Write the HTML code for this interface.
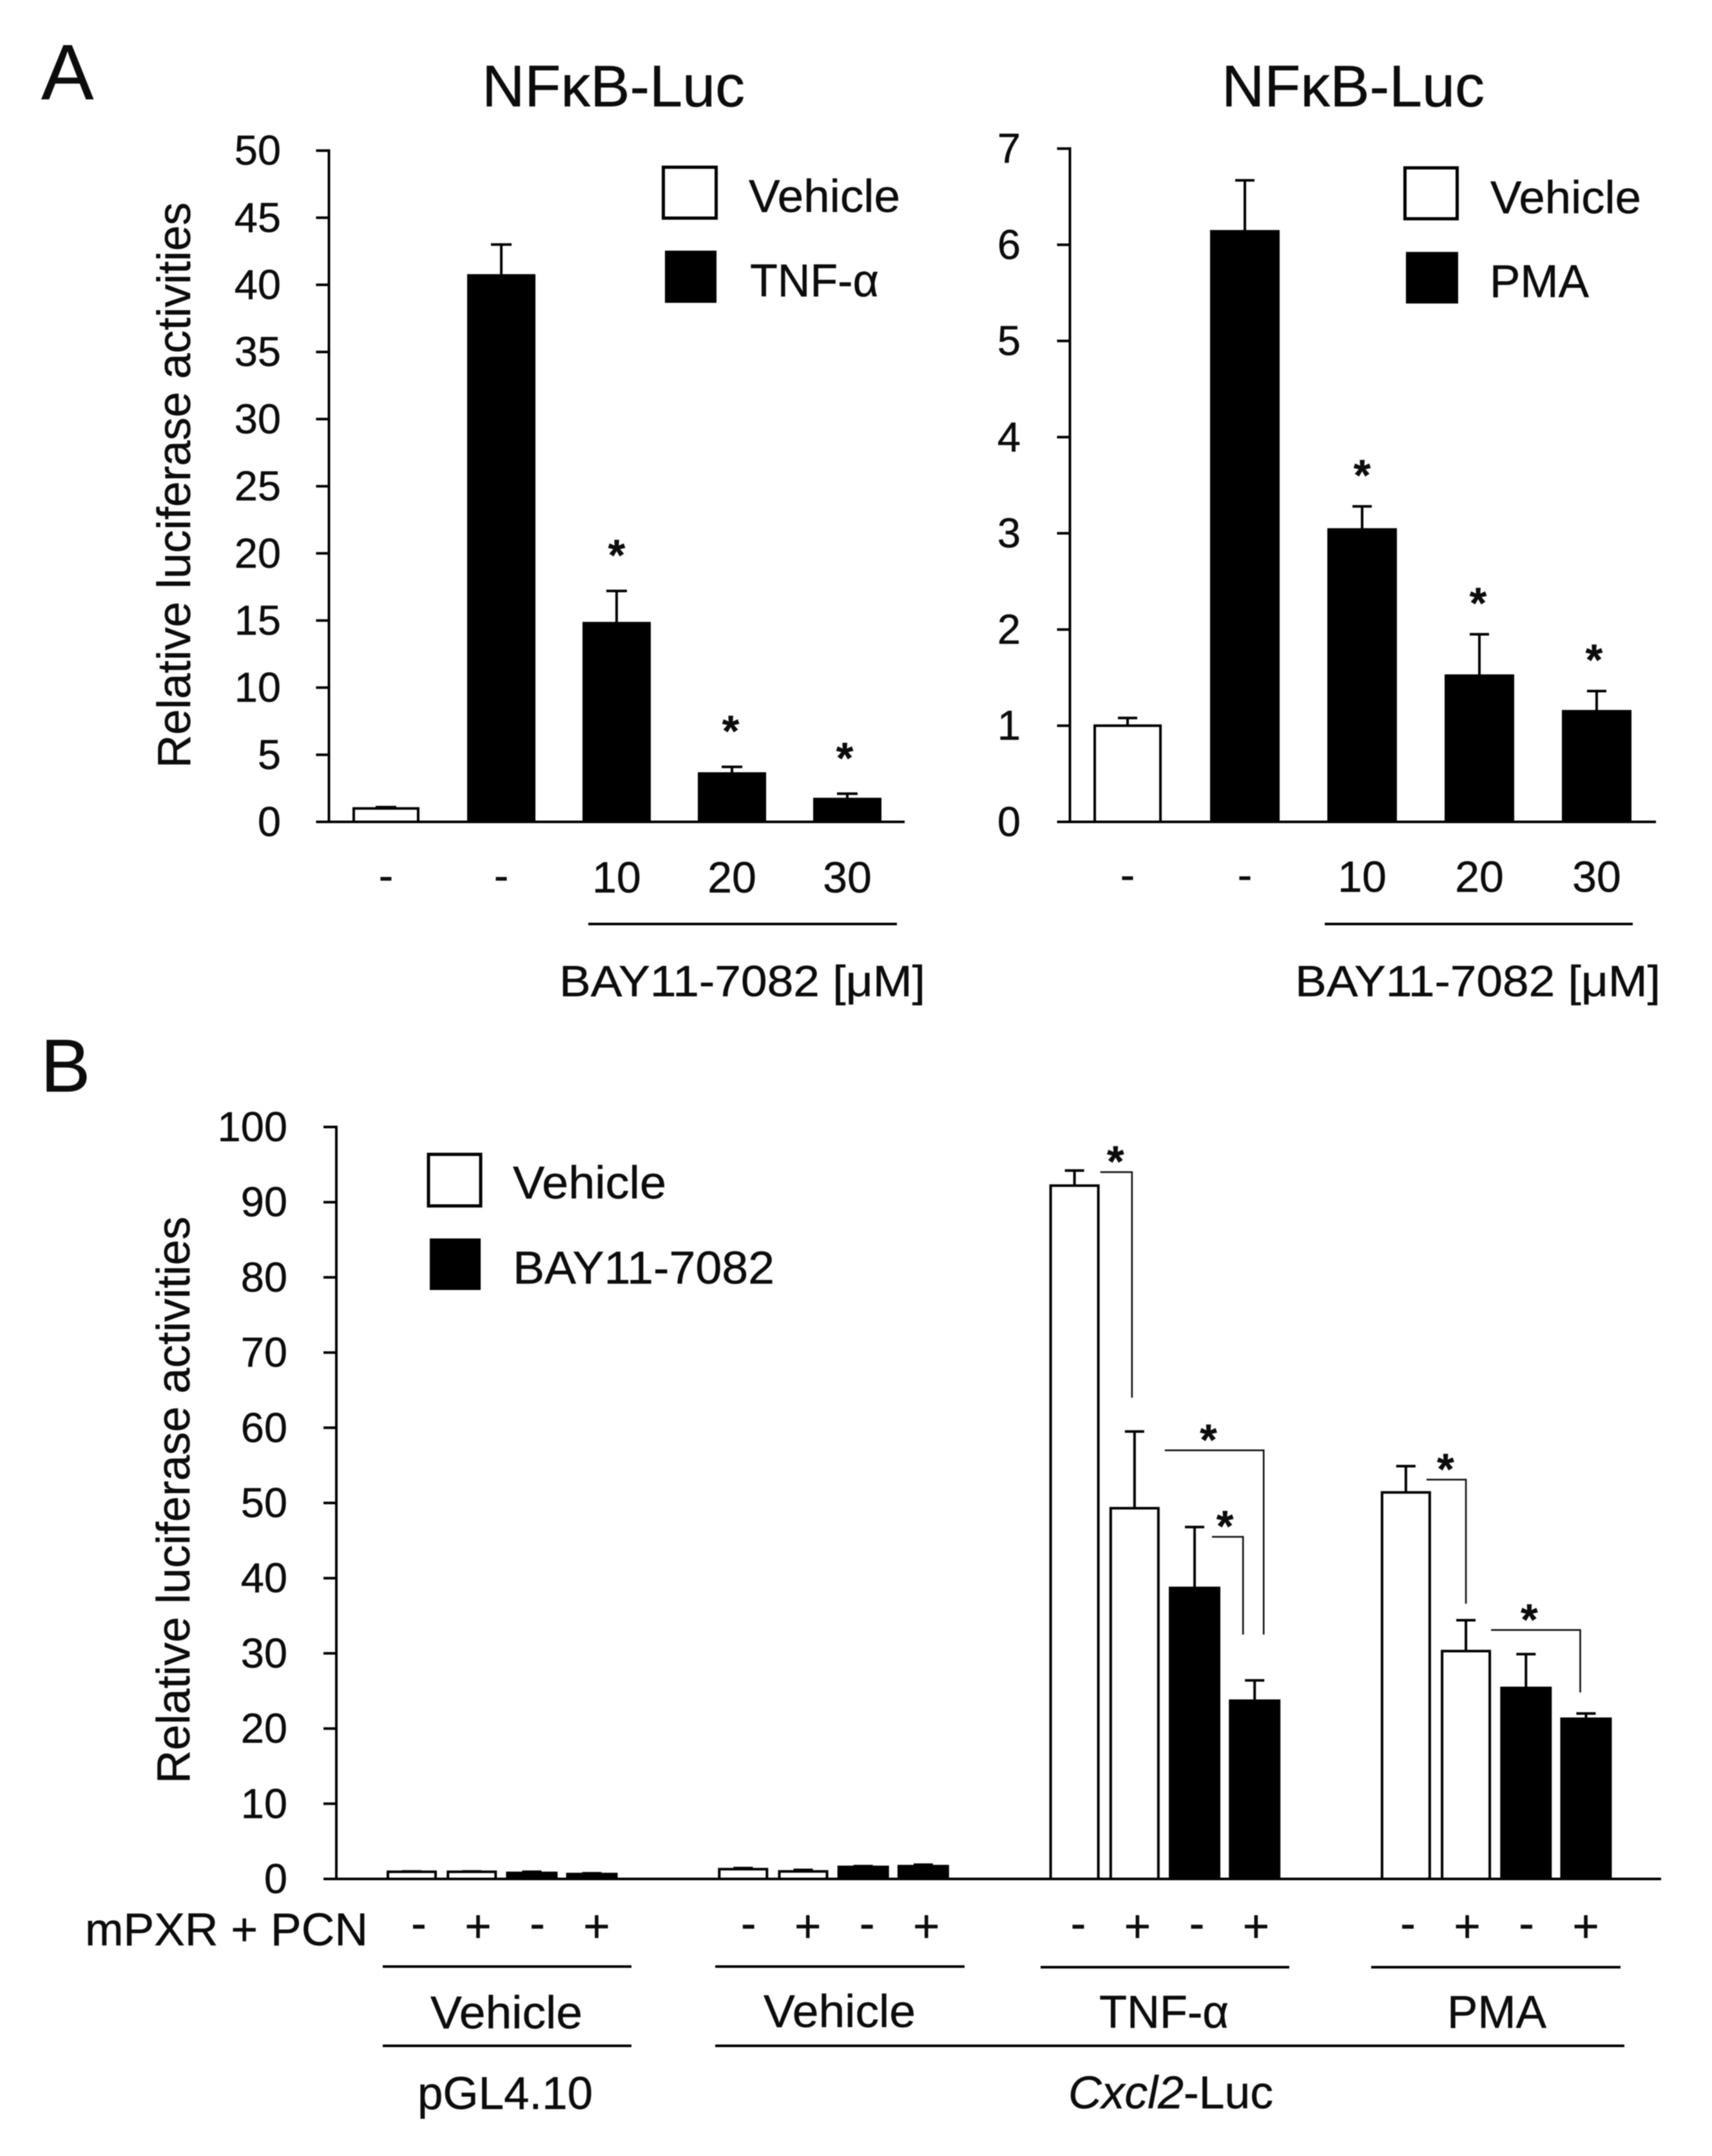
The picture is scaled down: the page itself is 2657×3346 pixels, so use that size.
<!DOCTYPE html>
<html lang="en">
<head>
<meta charset="utf-8">
<title>NFκB and Cxcl2 luciferase activity</title>
<style>
  html, body { margin: 0; padding: 0; background: #fff; }
  svg { display: block; position: absolute; left: 0; top: 0; filter: blur(0.8px); }
  text { font-family: "Liberation Sans", Arial, sans-serif; fill: #0c0c0c; stroke: #0c0c0c; stroke-width: 0.5px; }
</style>
</head>
<body>
<svg id="figure" xmlns="http://www.w3.org/2000/svg" width="2657" height="3346" viewBox="0 0 2657 3346">
  <rect x="0" y="0" width="2657" height="3346" fill="#fff"/>

  <text x="64" y="154" font-size="122">A</text>
  <text x="63" y="1694" font-size="116">B</text>

  <text x="748" y="165" font-size="91" textLength="408" lengthAdjust="spacingAndGlyphs">NFκB-Luc</text>
  <text x="1896" y="165" font-size="91" textLength="408" lengthAdjust="spacingAndGlyphs">NFκB-Luc</text>

  <text transform="translate(295,1192) rotate(-90)" font-size="72" textLength="878" lengthAdjust="spacingAndGlyphs">Relative luciferase activities</text>
  <text transform="translate(294,2768) rotate(-90)" font-size="72" textLength="880" lengthAdjust="spacingAndGlyphs">Relative luciferase activities</text>

  <g>
    <rect x="1029.5" y="259.5" width="82" height="79" fill="#fff" stroke="#000" stroke-width="5"/>
    <text x="1162" y="329" font-size="71" textLength="235" lengthAdjust="spacingAndGlyphs">Vehicle</text>
    <rect x="1032" y="389" width="80" height="81" fill="#000"/>
    <text x="1164" y="460" font-size="71" textLength="200" lengthAdjust="spacingAndGlyphs">TNF-α</text>
  </g>

  <g>
    <rect x="2180.5" y="260.5" width="81" height="79" fill="#fff" stroke="#000" stroke-width="5"/>
    <text x="2313" y="331" font-size="71" textLength="234" lengthAdjust="spacingAndGlyphs">Vehicle</text>
    <rect x="2182" y="391" width="81" height="80" fill="#000"/>
    <text x="2312" y="461" font-size="71" textLength="154" lengthAdjust="spacingAndGlyphs">PMA</text>
  </g>

  <g>
    <rect x="665" y="1791.5" width="81" height="80" fill="#fff" stroke="#000" stroke-width="5"/>
    <text x="796" y="1860" font-size="71" textLength="238" lengthAdjust="spacingAndGlyphs">Vehicle</text>
    <rect x="667" y="1922" width="79" height="80" fill="#000"/>
    <text x="796" y="1992" font-size="71" textLength="406" lengthAdjust="spacingAndGlyphs">BAY11-7082</text>
  </g>

  <line x1="913" x2="1392" y1="1434" y2="1434" stroke="#000" stroke-width="4"/>
  <text x="868" y="1546" font-size="68" textLength="568" lengthAdjust="spacingAndGlyphs">BAY11-7082 [μM]</text>
  <line x1="2056" x2="2534" y1="1434" y2="1434" stroke="#000" stroke-width="4"/>
  <text x="2010" y="1546" font-size="68" textLength="567" lengthAdjust="spacingAndGlyphs">BAY11-7082 [μM]</text>

  <text x="132" y="3019" font-size="71" textLength="439" lengthAdjust="spacingAndGlyphs">mPXR + PCN</text>

  <g>
    <line x1="594" x2="980" y1="3052" y2="3052" stroke="#000" stroke-width="4"/>
    <line x1="1110" x2="1497" y1="3052" y2="3052" stroke="#000" stroke-width="4"/>
    <line x1="1615" x2="2001" y1="3053" y2="3053" stroke="#000" stroke-width="4"/>
    <line x1="2128" x2="2515" y1="3053" y2="3053" stroke="#000" stroke-width="4"/>
    <line x1="594" x2="980" y1="3175" y2="3175" stroke="#000" stroke-width="4"/>
    <line x1="1110" x2="2521" y1="3175" y2="3175" stroke="#000" stroke-width="4"/>
    <text x="668" y="3148" font-size="71" textLength="236" lengthAdjust="spacingAndGlyphs">Vehicle</text>
    <text x="1185" y="3146" font-size="71" textLength="236" lengthAdjust="spacingAndGlyphs">Vehicle</text>
    <text x="1706" y="3147" font-size="71" textLength="201" lengthAdjust="spacingAndGlyphs">TNF-α</text>
    <text x="2246" y="3147" font-size="71" textLength="154" lengthAdjust="spacingAndGlyphs">PMA</text>
    <text x="648" y="3273" font-size="71" textLength="272" lengthAdjust="spacingAndGlyphs">pGL4.10</text>
    <text x="1658" y="3272" font-size="71" textLength="318" lengthAdjust="spacingAndGlyphs"><tspan font-style="italic">Cxcl2</tspan>-Luc</text>
  </g>
</svg>

<script>
// ---- Panel A, left chart (TNF-alpha) ----
const a1Categories = ['-', '-', '10', '20', '30'];
const a1Values = [1.0, 40.7, 14.8, 3.6, 1.7];
const a1ErrorTops = [1.1, 43.0, 17.2, 4.1, 2.1];
const a1Fills = ['white', 'black', 'black', 'black', 'black'];
const a1Significant = [false, false, true, true, true];
const a1YTicks = [0, 5, 10, 15, 20, 25, 30, 35, 40, 45, 50];

// ---- Panel A, right chart (PMA) ----
const a2Categories = ['-', '-', '10', '20', '30'];
const a2Values = [1.0, 6.14, 3.04, 1.52, 1.15];
const a2ErrorTops = [1.08, 6.67, 3.28, 1.95, 1.36];
const a2Fills = ['white', 'black', 'black', 'black', 'black'];
const a2Significant = [false, false, true, true, true];
const a2YTicks = [0, 1, 2, 3, 4, 5, 6, 7];

// ---- Panel B ----
const bTreatments = ['-', '+', '-', '+', '-', '+', '-', '+', '-', '+', '-', '+', '-', '+', '-', '+'];
const bValues = [0.95, 0.95, 0.8, 0.65, 1.3, 1.0, 1.6, 1.7, 92.2, 49.3, 38.7, 23.7, 51.4, 30.3, 25.4, 21.3];
const bErrorTops = [1.0, 1.0, 0.95, 0.75, 1.45, 1.2, 1.7, 1.9, 94.2, 59.5, 46.8, 26.4, 54.9, 34.4, 29.9, 22.0];
const bFills = ['white', 'white', 'black', 'black', 'white', 'white', 'black', 'black', 'white', 'white', 'black', 'black', 'white', 'white', 'black', 'black'];
const bYTicks = [0, 10, 20, 30, 40, 50, 60, 70, 80, 90, 100];

const SVG_NS = 'http://www.w3.org/2000/svg';
const figure = document.getElementById('figure');

function make(tag, attrs, parent) {
  const node = document.createElementNS(SVG_NS, tag);
  for (const key in attrs) node.setAttribute(key, attrs[key]);
  (parent || figure).appendChild(node);
  return node;
}

function linearY(zeroY, topY, maxValue) {
  return function (v) { return zeroY - (v / maxValue) * (zeroY - topY); };
}

function drawAxes(prefix, cfg, ticks, y) {
  const axisY = make('line', { x1: cfg.axisX, x2: cfg.axisX, y1: y(ticks[ticks.length - 1]) - 2, y2: cfg.zeroY, stroke: '#000', 'stroke-width': 4 });
  
  
  const axisX = make('line', { x1: cfg.axisX - cfg.tickLength, x2: cfg.axisEnd, y1: cfg.zeroY, y2: cfg.zeroY, stroke: '#000', 'stroke-width': 4 });
  
  
  ticks.forEach(function (t) {
    const mark = make('line', { x1: cfg.axisX - cfg.tickLength, x2: cfg.axisX, y1: y(t), y2: y(t), stroke: '#000', 'stroke-width': 4 });
    
    
    const label = make('text', { x: cfg.tickLabelX, y: y(t) + 22, 'font-size': cfg.tickFont, 'text-anchor': 'end' });
    label.textContent = String(t);
    
    
  });
}

function drawBar(prefix, i, xLeft, width, value, errTop, fill, y, zeroY, capWidth) {
  const cx = xLeft + width / 2;
  const stem = make('line', { x1: cx, x2: cx, y1: y(errTop), y2: y(value), stroke: '#000', 'stroke-width': 4 });
  
  
  const cap = make('line', { x1: cx - capWidth / 2, x2: cx + capWidth / 2, y1: y(errTop), y2: y(errTop), stroke: '#000', 'stroke-width': 4 });
  
  
  const isWhite = fill === 'white';
  const bar = make('rect', {
    x: isWhite ? xLeft + 1 : xLeft,
    y: y(value),
    width: isWhite ? width - 2 : width,
    height: zeroY - y(value),
    fill: isWhite ? '#fff' : '#000',
    stroke: '#000',
    'stroke-width': 4
  });
  
  
}

function drawStar(prefix, x, centerY) {
  const size = 68;
  const star = make('text', { x: x, y: centerY + size * 0.45, 'font-size': size, 'text-anchor': 'middle', 'font-weight': 'bold' });
  star.textContent = '*';
  
  
}

function drawSimpleChart(prefix, cfg, categories, values, errorTops, fills, significant, ticks) {
  const y = linearY(cfg.zeroY, cfg.topY, ticks[ticks.length - 1]);
  const xLeft = function (i) { return cfg.firstBar + i * cfg.step; };
  values.forEach(function (v, i) {
    drawBar(prefix, i, xLeft(i), cfg.barWidth, v, errorTops[i], fills[i], y, cfg.zeroY, cfg.capWidth);
    const cx = xLeft(i) + cfg.barWidth / 2;
    const isDash = categories[i] === '-';
    const label = make('text', { x: cx, y: isDash ? cfg.labelY - 3 : cfg.labelY, 'font-size': 68, 'text-anchor': 'middle' });
    label.textContent = categories[i];
    
    
    if (significant[i]) {
      drawStar(prefix, cx - 2 * (i - 2), y(errorTops[i]) - cfg.starGap);
    }
  });
  drawAxes(prefix, cfg, ticks, y);
}

drawSimpleChart('chart-a1', {
  axisX: 510.5, axisEnd: 1404, tickLength: 20, zeroY: 1275.5, topY: 233.7,
  tickLabelX: 436, tickFont: 65, firstBar: 548, step: 179, barWidth: 102, capWidth: 32,
  labelY: 1385, starGap: 63
}, a1Categories, a1Values, a1ErrorTops, a1Fills, a1Significant, a1YTicks);

drawSimpleChart('chart-a2', {
  axisX: 1660.5, axisEnd: 2570, tickLength: 20, zeroY: 1275.5, topY: 230.6,
  tickLabelX: 1584, tickFont: 65, firstBar: 1698, step: 182, barWidth: 104, capWidth: 30,
  labelY: 1384, starGap: 56
}, a2Categories, a2Values, a2ErrorTops, a2Fills, a2Significant, a2YTicks);

// Panel B: four groups of four bars
const bCfg = { axisX: 522, axisEnd: 2578, tickLength: 20, zeroY: 2916, topY: 1749, tickLabelX: 446, tickFont: 65 };
const bY = linearY(bCfg.zeroY, bCfg.topY, 100);
const bPerGroup = 4;
const bWidth = 76;
function bLeft(i) {
  const g = Math.floor(i / bPerGroup);
  return 601 + g * 514.3 + (i % bPerGroup) * 93.2;
}
function bCenter(i) { return bLeft(i) + bWidth / 2; }
function signX(i) {
  const g = Math.floor(i / bPerGroup);
  return 650 + g * 511.7 + (i % bPerGroup) * 92;
}

bValues.forEach(function (v, i) {
  drawBar('chart-b', i, bLeft(i), bWidth, v, bErrorTops[i], bFills[i], bY, bCfg.zeroY, 30);
  const isPlus = bTreatments[i] === '+';
  const sign = make('text', { x: signX(i), y: isPlus ? 3014 : 3009, 'font-size': 71, 'text-anchor': 'middle' });
  sign.textContent = bTreatments[i];
  
  
});
drawAxes('chart-b', bCfg, bYTicks, bY);

function bracket(fromBar, toBar, topValue, endValue, dxStart, dxEnd, dxStar) {
  const x1 = bCenter(fromBar) + dxStart;
  const x2 = bCenter(toBar) + dxEnd;
  const yTop = bY(topValue);
  const yEnd = bY(endValue);
  const path = make('path', { d: 'M' + x1 + ' ' + yTop + 'H' + x2 + 'V' + yEnd, fill: 'none', stroke: '#111', 'stroke-width': 2.6 });
  
  
  drawStar('chart-b', (x1 + x2) / 2 + dxStar, yTop - 24);
}
bracket(8, 9, 94.0, 64.0, 40, -4, -1);
bracket(9, 11, 57.0, 32.5, 47, 14, -9);
bracket(10, 11, 45.5, 32.5, 27, -18, -4);
bracket(12, 13, 53.1, 36.6, 32, 0, -1);
bracket(13, 15, 33.1, 24.8, 39, -9, -10);
</script>
</body>
</html>
